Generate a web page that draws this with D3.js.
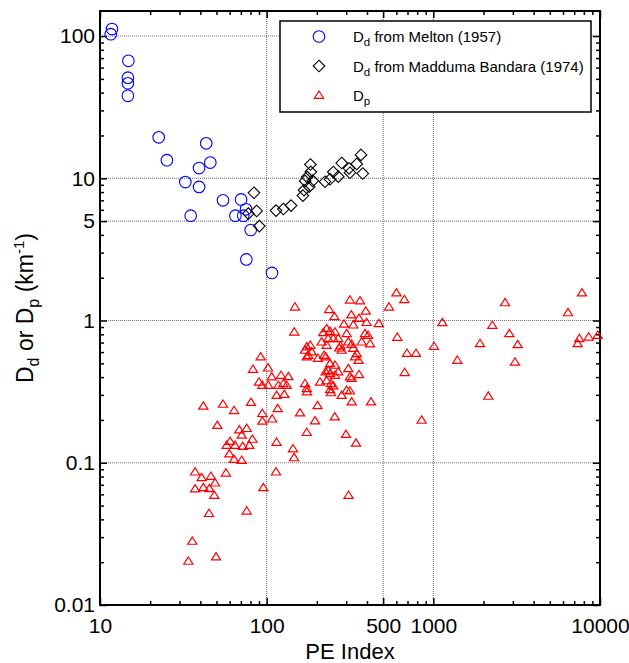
<!DOCTYPE html>
<html>
<head>
<meta charset="utf-8">
<script src="https://cdn.jsdelivr.net/npm/d3@7"></script>
<style>
  body { margin: 0; background: #fff; }
  svg { font-family: Arial, "Liberation Sans", sans-serif; }
</style>
</head>
<body>
<div id="chart"></div>
<script>
// D_d from Melton (1957) - blue circles
var meltonPE = [11.8, 11.6, 14.8, 14.7, 14.7, 14.7, 22.5, 25.2, 43.4, 39.3, 45.9, 32.5, 39.3, 54.7, 70.2, 35.0, 64.9, 72.4, 75.2, 80.2, 75.5, 107.6];
var meltonDd = [112, 103, 67, 51, 46.5, 38, 19.4, 13.4, 17.6, 11.8, 12.9, 9.4, 8.7, 7.0, 7.1, 5.46, 5.46, 5.46, 6.05, 4.33, 2.69, 2.16];

// D_d from Madduma Bandara (1974) - black diamonds
var maddumaPE = [77.6, 83.9, 87.1, 90.3, 113.8, 125.9, 140, 165, 170, 175, 183, 184, 180, 189, 167.5, 224, 240, 251, 269, 282, 312, 316, 347, 368, 377];
var maddumaDd = [5.65, 7.91, 5.89, 4.61, 5.93, 6.08, 6.43, 7.56, 9.57, 10.2, 12.5, 11.1, 8.73, 9.6, 8.26, 9.46, 9.84, 11.07, 10.26, 12.8, 11.75, 10.94, 12.6, 14.6, 10.8];

// D_p - red triangles
var dpPE = [
  33.9, 35.8, 49.7, 37.2, 40.7, 46.3, 49.0, 37.2, 41.7, 45.3, 48.5, 45.1, 57.0, 75.9, 95.5, 113.8,
  59.7, 63.7, 70.8, 60.3, 57.5, 64.6, 71.8, 78.7, 82.2, 70.8, 50.6, 68.5, 75.9, 41.7, 54.7, 63.8,
  80.5, 94.2, 94.2, 108, 116.4, 158.5, 202, 195, 256, 174, 114.6, 143.9, 146, 310, 299, 343.6,
  851, 323.6, 422.7, 281.8,
  82.8, 89.9, 92.0, 101.9, 94.2, 102.3, 107.2, 121.9, 134.9, 117.5, 125.9, 131.8, 114.8, 127.6,
  147.9, 146.5, 169.8, 174, 174.6, 208.9, 229, 243, 251, 240, 243, 302, 316, 226, 240, 257, 269,
  240, 257, 234, 309, 358, 316, 323.6,
  174, 182.8, 169.8, 177.8, 174, 186.2, 203, 221, 226,
  229, 218.8, 240, 257, 234, 251, 269, 213.8, 229, 302, 309, 323.6, 371.5, 417, 272.9, 281.8, 277.3,
  237, 255, 316, 363, 393, 322, 358, 398, 291, 331, 389, 406, 471,
  331, 347, 339, 356,
  542, 601, 670, 608, 695, 787, 1009, 1132, 673, 1393, 1905, 2259, 2692, 2858, 3206, 3090, 2138,
  7798, 6427, 7516, 7345, 8551, 9683
];
var dpVal = [
  0.0204, 0.0282, 0.0219, 0.0865, 0.079, 0.0807, 0.0724, 0.0658, 0.0672, 0.0661, 0.0593, 0.0442, 0.0851, 0.046, 0.0672, 0.0865,
  0.116, 0.106, 0.1045, 0.142, 0.133, 0.133, 0.131, 0.133, 0.147, 0.157, 0.184, 0.171, 0.175, 0.251, 0.259, 0.234,
  0.267, 0.223, 0.197, 0.204, 0.241, 0.225, 0.253, 0.198, 0.211, 0.164, 0.140, 0.126, 0.109, 0.0593, 0.159, 0.138,
  0.200, 0.269, 0.269, 0.299,
  0.456, 0.371, 0.557, 0.466, 0.352, 0.352, 0.403, 0.414, 0.405, 0.352, 0.362, 0.352, 0.299, 0.304,
  1.25, 0.834, 0.362, 0.334, 0.317, 0.371, 0.379, 0.362, 0.349, 0.328, 0.312, 0.325, 0.321, 0.437, 0.425, 0.414, 0.437,
  0.500, 0.487, 0.449, 0.461, 0.419, 0.403, 0.393,
  0.655, 0.673, 0.621, 0.572, 0.557, 0.604, 0.545, 0.572, 0.557,
  0.881, 0.826, 0.844, 0.834, 0.750, 0.750, 0.750, 0.710, 0.673, 0.813, 0.710, 0.684, 0.710, 0.689, 0.644, 0.621, 0.667,
  1.20, 1.07, 1.40, 1.38, 1.17, 1.10, 1.04, 0.973, 0.948, 0.935, 0.813, 0.791, 0.955,
  0.641, 0.588, 0.557, 0.528,
  1.25, 1.57, 1.41, 0.766, 0.591, 0.591, 0.662, 0.971, 0.433, 0.528, 0.692, 0.930, 1.34, 0.813, 0.680, 0.513, 0.295,
  1.57, 1.14, 0.750, 0.692, 0.769, 0.791
];

// axis ticks
var xMajor = [10, 100, 500, 1000, 10000];
var xMinor = [20, 30, 40, 50, 60, 70, 80, 90, 200, 300, 400, 600, 700, 800, 900,
  2000, 3000, 4000, 5000, 6000, 7000, 8000, 9000];
var yMajor = [0.01, 0.1, 1, 5, 10, 100];
var yMinor = [0.02, 0.03, 0.04, 0.05, 0.06, 0.07, 0.08, 0.09, 0.2, 0.3, 0.4, 0.5, 0.6, 0.7, 0.8, 0.9,
  2, 3, 4, 6, 7, 8, 9, 20, 30, 40, 50, 60, 70, 80, 90];

var svgWidth = 629;
var svgHeight = 663;
var margin = { top: 11, right: 29, bottom: 58, left: 100 };
var width = svgWidth - margin.left - margin.right;
var height = svgHeight - margin.top - margin.bottom;

var svg = d3.select("#chart")
  .append("svg")
  .attr("width", svgWidth)
  .attr("height", svgHeight);

var chartGroup = svg.append("g")
  .attr("transform", `translate(${margin.left}, ${margin.top})`);

var xScale = d3.scaleLog().domain([10, 10000]).range([0, width]);
var yScale = d3.scaleLog().domain([0.01, 150]).range([height, 0]);

// gridlines
chartGroup.append("g").selectAll("line")
  .data([100, 500, 1000])
  .enter().append("line")
  .attr("x1", d => xScale(d)).attr("x2", d => xScale(d))
  .attr("y1", 0).attr("y2", height)
  .attr("stroke", "#606060").attr("stroke-width", 1).attr("stroke-dasharray", "1,1");

chartGroup.append("g").selectAll("line")
  .data([0.1, 1, 5, 10, 100])
  .enter().append("line")
  .attr("y1", d => yScale(d)).attr("y2", d => yScale(d))
  .attr("x1", 0).attr("x2", width)
  .attr("stroke", "#707070").attr("stroke-width", 1).attr("stroke-dasharray", "1,1");

// axes, ticks pointing inside
function styleAxis(g, fontSize) {
  g.select(".domain").remove();
  g.selectAll(".tick line").attr("stroke", "#000").attr("stroke-width", 1.5);
  g.selectAll("text").attr("fill", "#000").style("font-size", fontSize + "px")
    .style("font-family", "Arial, 'Liberation Sans', sans-serif");
}

var bottomMajor = chartGroup.append("g")
  .attr("transform", `translate(0, ${height})`)
  .call(d3.axisBottom(xScale).tickValues(xMajor).tickFormat(d3.format("d"))
    .tickSizeInner(-7).tickSizeOuter(0).tickPadding(13));
styleAxis(bottomMajor, 21);

var bottomMinor = chartGroup.append("g")
  .attr("transform", `translate(0, ${height})`)
  .call(d3.axisBottom(xScale).tickValues(xMinor).tickFormat("").tickSizeInner(-4).tickSizeOuter(0));
styleAxis(bottomMinor, 10);

var topMajor = chartGroup.append("g")
  .call(d3.axisTop(xScale).tickValues(xMajor).tickFormat("").tickSizeInner(-7).tickSizeOuter(0));
styleAxis(topMajor, 10);
var topMinor = chartGroup.append("g")
  .call(d3.axisTop(xScale).tickValues(xMinor).tickFormat("").tickSizeInner(-4).tickSizeOuter(0));
styleAxis(topMinor, 10);

var leftMajor = chartGroup.append("g")
  .call(d3.axisLeft(yScale).tickValues(yMajor).tickFormat(d => String(d))
    .tickSizeInner(-7).tickSizeOuter(0).tickPadding(5));
styleAxis(leftMajor, 21);
var leftMinor = chartGroup.append("g")
  .call(d3.axisLeft(yScale).tickValues(yMinor).tickFormat("").tickSizeInner(-4).tickSizeOuter(0));
styleAxis(leftMinor, 10);

var rightMajor = chartGroup.append("g")
  .attr("transform", `translate(${width}, 0)`)
  .call(d3.axisRight(yScale).tickValues(yMajor).tickFormat("").tickSizeInner(-7).tickSizeOuter(0));
styleAxis(rightMajor, 10);
var rightMinor = chartGroup.append("g")
  .attr("transform", `translate(${width}, 0)`)
  .call(d3.axisRight(yScale).tickValues(yMinor).tickFormat("").tickSizeInner(-4).tickSizeOuter(0));
styleAxis(rightMinor, 10);

// frame
chartGroup.append("rect")
  .attr("x", 0).attr("y", 0).attr("width", width).attr("height", height)
  .attr("fill", "none").attr("stroke", "#000").attr("stroke-width", 2);

// marker shapes
var circleR = 5.8;
var diamondPath = "M0,-5.8L5.8,0L0,5.8L-5.8,0Z";
var trianglePath = "M0,-4L4.6,3.3L-4.6,3.3Z";

// blue circles
chartGroup.append("g").selectAll("circle")
  .data(d3.zip(meltonPE, meltonDd))
  .enter().append("circle")
  .attr("cx", d => xScale(d[0]))
  .attr("cy", d => yScale(d[1]))
  .attr("r", circleR)
  .attr("fill", "none")
  .attr("stroke", "#0000ff")
  .attr("stroke-width", 1.1);

// black diamonds
chartGroup.append("g").selectAll("path")
  .data(d3.zip(maddumaPE, maddumaDd))
  .enter().append("path")
  .attr("d", diamondPath)
  .attr("transform", d => `translate(${xScale(d[0])}, ${yScale(d[1])})`)
  .attr("fill", "none")
  .attr("stroke", "#000")
  .attr("stroke-width", 1.1);

// red triangles
chartGroup.append("g").selectAll("path")
  .data(d3.zip(dpPE, dpVal))
  .enter().append("path")
  .attr("d", trianglePath)
  .attr("transform", d => `translate(${xScale(d[0])}, ${yScale(d[1])})`)
  .attr("fill", "none")
  .attr("stroke", "#ff0000")
  .attr("stroke-width", 1.2);

// legend
var legend = svg.append("g");
legend.append("rect")
  .attr("x", 280).attr("y", 21).attr("width", 311).attr("height", 91)
  .attr("fill", "#fff").attr("stroke", "#000").attr("stroke-width", 1.5);

legend.append("circle")
  .attr("cx", 319).attr("cy", 36.5).attr("r", circleR)
  .attr("fill", "none").attr("stroke", "#0000ff").attr("stroke-width", 1.1);
legend.append("path")
  .attr("d", diamondPath).attr("transform", "translate(319, 66)")
  .attr("fill", "none").attr("stroke", "#000").attr("stroke-width", 1.1);
legend.append("path")
  .attr("d", trianglePath).attr("transform", "translate(319, 95)")
  .attr("fill", "none").attr("stroke", "#ff0000").attr("stroke-width", 1.2);

var legendItems = [
  { sub: "d", rest: " from Melton (1957)", y: 42 },
  { sub: "d", rest: " from Madduma Bandara (1974)", y: 71.5 },
  { sub: "p", rest: "", y: 101 }
];
legendItems.forEach(function(item) {
  var t = legend.append("text")
    .attr("x", 353).attr("y", item.y)
    .style("font-size", "15px").attr("fill", "#000");
  t.append("tspan").text("D");
  t.append("tspan").attr("dy", 4).style("font-size", "11.5px").text(item.sub);
  if (item.rest) t.append("tspan").attr("dy", -4).text(item.rest);
});

// axis titles
svg.append("text")
  .attr("x", margin.left + width / 2).attr("y", 659)
  .attr("text-anchor", "middle")
  .style("font-size", "22px").attr("fill", "#000")
  .text("PE Index");

var yTitle = svg.append("text")
  .attr("transform", `translate(33, ${margin.top + height / 2}) rotate(-90)`)
  .attr("text-anchor", "middle")
  .style("font-size", "23px").attr("fill", "#000");
yTitle.append("tspan").text("D");
yTitle.append("tspan").attr("dy", 6).style("font-size", "16px").text("d");
yTitle.append("tspan").attr("dy", -6).text(" or D");
yTitle.append("tspan").attr("dy", 6).style("font-size", "16px").text("p");
yTitle.append("tspan").attr("dy", -6).text(" (km");
yTitle.append("tspan").attr("dy", -9).style("font-size", "15px").text("-1");
yTitle.append("tspan").attr("dy", 9).text(")");
</script>
</body>
</html>
